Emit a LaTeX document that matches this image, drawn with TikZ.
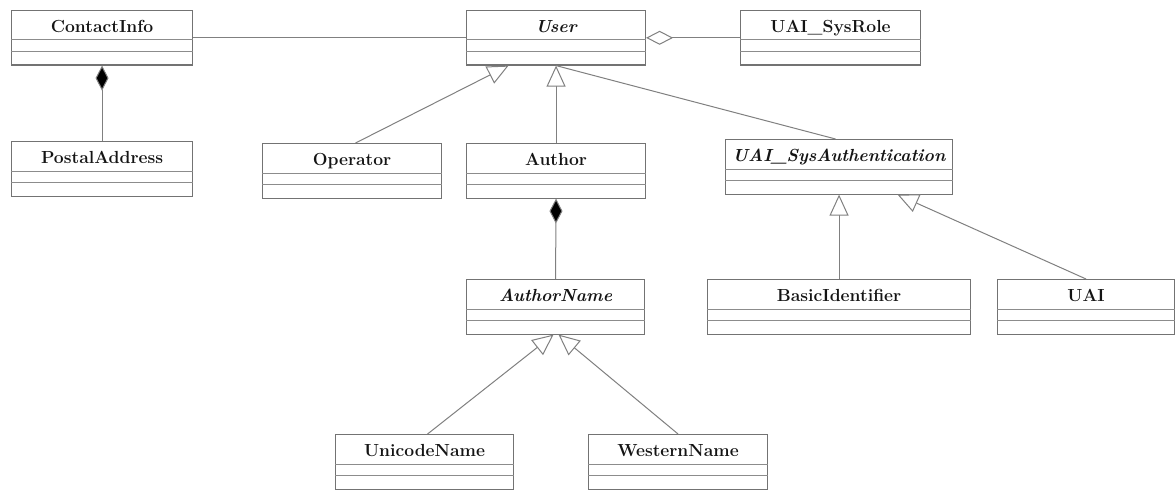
\documentclass[tikz,border=0pt]{standalone}
\usetikzlibrary{arrows.meta}

% A UML class: header with the class name, then two empty compartments.
% #1 extra label style, #2 name, #3 left, #4 top, #5 right, #6 class name
\newcommand\umlclass[6][]{%
  \node[clsbox, minimum width={#5-#3}] (#2) at (#3,#4) {};
  \draw[clsrule] ([yshift=-30pt]#2.north west) -- ([yshift=-30pt]#2.north east);
  \draw[clsrule] ([yshift=-41.5pt]#2.north west) -- ([yshift=-41.5pt]#2.north east);
  \node[clstext,#1] (#2-name) at ([yshift=-22.5pt]#2.north) {#6};
}

\begin{document}
\begin{tikzpicture}[x=1pt,y=-1pt,
  clsbox/.style={draw=black!55, line width=1.1pt, inner sep=0pt,
    minimum height=54.5pt, anchor=north west},
  clsrule/.style={draw=black!45, line width=1pt},
  clstext/.style={anchor=base, inner sep=0pt,
    font=\fontsize{17.5}{20}\selectfont\bfseries, text=black!92},
  abstract/.style={font=\fontsize{17.5}{20}\selectfont\bfseries\itshape},
  link/.style={draw=black!50, line width=1pt},
  inherit/.style={link, -{Triangle[open, length=21pt, width=19pt, fill=white]}},
  compose/.style={link, {Diamond[length=25pt, width=13pt, fill=black]}-},
  aggregate/.style={link, {Diamond[open, length=27pt, width=14pt, fill=white]}-},
]
\fill[white] (0,0) rectangle (1176,495);
\useasboundingbox (0,0) rectangle (1176,495);

% classes
\umlclass{ContactInfo}{11}{10}{192}{ContactInfo}
\umlclass{PostalAddress}{11}{141}{192}{PostalAddress}
\umlclass[abstract]{User}{466}{10}{645}{User}
\umlclass{SysRole}{740}{10}{920}{UAI\_SysRole}
\umlclass{Operator}{262}{143}{441}{Operator}
\umlclass{Author}{466}{143}{645}{Author}
\umlclass[abstract]{SysAuth}{725}{139}{952}{UAI\_SysAuthentication}
\umlclass[abstract]{AuthorName}{466}{279}{644}{AuthorName}
\umlclass{BasicId}{707}{279}{970}{BasicIdentifier}
\umlclass{UAI}{997}{279}{1174}{UAI}
\umlclass{UnicodeName}{335}{434}{513}{UnicodeName}
\umlclass{WesternName}{588}{434}{767}{WesternName}

% associations
\draw[link] (ContactInfo.east) -- (User.west);
\draw[aggregate] (User.east) -- (SysRole.west);
\draw[compose] (ContactInfo.south) -- (PostalAddress.north);
\draw[compose] (Author.south) -- (AuthorName.north);

% generalizations
\draw[link] ([xshift=-3.5pt]SysAuth.north) -- (User.south);
\draw[inherit] ([xshift=3.5pt]Operator.north) -- ([xshift=-47.5pt]User.south);
\draw[inherit] (Author.north) -- (User.south);
\draw[inherit] (BasicId.north) -- (SysAuth.south);
\draw[inherit] (UAI.north) -- ([xshift=58.5pt]SysAuth.south);
\draw[inherit] ([xshift=3pt]UnicodeName.north) -- ([xshift=-2pt]AuthorName.south);
\draw[inherit] (WesternName.north) -- ([xshift=3pt]AuthorName.south);
\end{tikzpicture}
\end{document}
